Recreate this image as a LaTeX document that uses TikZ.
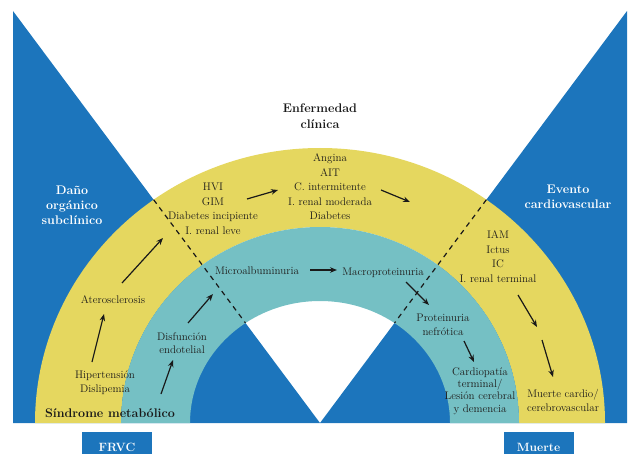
\documentclass[tikz,border=0pt]{standalone}
\usetikzlibrary{arrows.meta,calc}
\definecolor{ringblue}{RGB}{28,117,188}
\definecolor{ringyellow}{RGB}{229,215,95}
\definecolor{ringteal}{RGB}{117,192,196}
\definecolor{textgray}{RGB}{30,28,26}
\tikzset{
  stage/.style={align=center, inner sep=0pt, text=textgray,
    font=\fontsize{11}{14.5}\selectfont},
  heading/.style={align=center, inner sep=0pt, text=black!90,
    font=\fontsize{12.5}{16}\selectfont\bfseries},
  sidehead/.style={heading, text=white},
  tagbox/.style={fill=ringblue, text=white, anchor=north, inner sep=0pt,
    minimum width=70pt, minimum height=30pt,
    font=\fontsize{12}{14}\selectfont\bfseries},
  flow/.style={-{Stealth[length=7pt,width=5.5pt]}, line width=1.2pt, black!90},
  stagelimit/.style={dash pattern=on 5pt off 4.5pt, line width=1.2pt, black!90},
}
\begin{document}
\begin{tikzpicture}[x=1pt,y=-1pt]
  \useasboundingbox (0,0) rectangle (628,454);
  % Blue wedges
  \coordinate (tl) at (13,11);
  \coordinate (tr) at (627,11);
  \coordinate (apex) at (320,423);
  \fill[ringblue] (tl) -- (apex) -- (13,423) -- cycle;
  \fill[ringblue] (tr) -- (627,423) -- (apex) -- cycle;
  % Yellow ring (clinical)
  \fill[ringyellow] (35,423) arc[start angle=180,end angle=0,x radius=285pt,y radius=275pt]
    -- (519,423) arc[start angle=0,end angle=180,x radius=199pt,y radius=196pt] -- cycle;
  % Teal ring (renal)
  \fill[ringteal] (121,423) arc[start angle=180,end angle=0,x radius=199pt,y radius=196pt]
    -- (450,423) arc[start angle=0,end angle=180,x radius=130pt,y radius=122pt] -- cycle;
  % Dashed limits across the rings
  \coordinate (limL1) at ($(tl)!0.458!(apex)$);
  \coordinate (limL2) at ($(tl)!0.757!(apex)$);
  \coordinate (limR1) at ($(tr)!0.458!(apex)$);
  \coordinate (limR2) at ($(tr)!0.757!(apex)$);
  \draw[stagelimit] (limL1) -- (limL2);
  \draw[stagelimit] (limR1) -- (limR2);
  % Headings
  \node[heading] (enferm) at (320,116.5) {Enfermedad\\clínica};
  \node[sidehead, font=\fontsize{12.5}{15}\selectfont\bfseries] (dano) at (72,205) {Daño\\orgánico\\subclínico};
  \node[sidehead, font=\fontsize{12.5}{14.5}\selectfont\bfseries] (evento) at (568,197) {Evento\\cardiovascular};
  \node[heading] (sindrome) at (110,413) {Síndrome metabólico};
  \node[tagbox] (frvc) at (117,432) {FRVC};
  \node[tagbox] (muerte) at (538.5,432) {Muerte};
  % Yellow ring stages
  \node[stage] (hiper) at (105,382.5) {Hipertensión\\Dislipemia};
  \node[stage] (ateros) at (113,300) {Aterosclerosis};
  \node[stage] (hvi) at (213,209) {HVI\\GIM\\Diabetes incipiente\\I. renal leve};
  \node[stage] (angina) at (330,187) {Angina\\AIT\\C. intermitente\\I. renal moderada\\Diabetes};
  \node[stage] (iam) at (498,256.5) {IAM\\Ictus\\IC\\I. renal terminal};
  \node[stage, font=\fontsize{11}{14}\selectfont] (muertecv) at (563,400) {Muerte cardio/\\cerebrovascular};
  % Teal ring stages
  \node[stage, font=\fontsize{11}{13}\selectfont] (disf) at (182,343.5) {Disfunción\\endotelial};
  \node[stage] (micro) at (257,271) {Microalbuminuria};
  \node[stage] (macro) at (383,273) {Macroproteinuria};
  \node[stage, font=\fontsize{11}{14}\selectfont] (protein) at (443,325) {Proteinuria\\nefrótica};
  \node[stage, font=\fontsize{11}{12.4}\selectfont] (cardiop) at (480,391) {Cardiopatía\\terminal/\\Lesión cerebral\\y demencia};
  % Arrow ends
  \coordinate (hip-out) at (92,362);   \coordinate (ate-in) at (104,314);
  \coordinate (ate-out) at (122,283);  \coordinate (hvi-in) at (163,238);
  \coordinate (hvi-out) at (247,199);  \coordinate (ang-in) at (278,190);
  \coordinate (ang-out) at (381,190);  \coordinate (iam-in) at (410,202);
  \coordinate (iam-out) at (518,295);  \coordinate (iam-mid) at (537,327);
  \coordinate (mcv-out) at (542,340);  \coordinate (mcv-in) at (553,377);
  \coordinate (sm-out) at (161,394);   \coordinate (disf-in) at (173,360);
  \coordinate (disf-out) at (188,323); \coordinate (micro-in) at (213,294);
  \coordinate (micro-out) at (310,270);\coordinate (macro-in) at (337,270);
  \coordinate (macro-out) at (406,282);\coordinate (prot-in) at (429,305);
  \coordinate (prot-out) at (464,341); \coordinate (card-in) at (474,362);
  % Progression arrows
  \draw[flow] (hip-out) -- (ate-in);
  \draw[flow] (ate-out) -- (hvi-in);
  \draw[flow] (hvi-out) -- (ang-in);
  \draw[flow] (ang-out) -- (iam-in);
  \draw[flow] (iam-out) -- (iam-mid);
  \draw[flow] (mcv-out) -- (mcv-in);
  \draw[flow] (sm-out) -- (disf-in);
  \draw[flow] (disf-out) -- (micro-in);
  \draw[flow] (micro-out) -- (macro-in);
  \draw[flow] (macro-out) -- (prot-in);
  \draw[flow] (prot-out) -- (card-in);
\end{tikzpicture}
\end{document}
